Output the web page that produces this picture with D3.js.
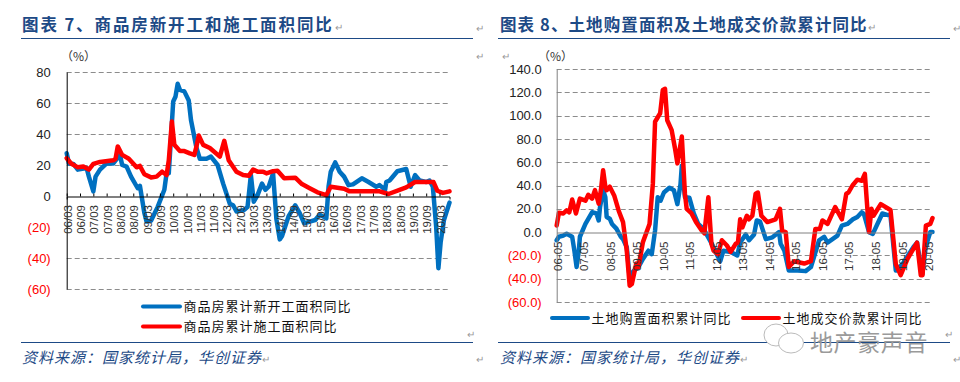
<!DOCTYPE html>
<html><head><meta charset="utf-8">
<script src="https://cdnjs.cloudflare.com/ajax/libs/d3/7.8.5/d3.min.js"></script>
<style>html,body{margin:0;padding:0;background:#fff}svg{display:block}</style>
</head><body><svg id="c" width="960" height="382"></svg>
<script>
// Month offsets are counted from the first tick of each chart (06/03 and 06-05)
const leftTicks = ["06/03","06/09","07/03","07/09","08/03","08/09","09/03","09/09","10/03","10/09","11/03","11/09","12/03","12/09","13/03","13/09","14/03","14/09","15/03","15/09","16/03","16/09","17/03","17/09","18/03","18/09","19/03","19/09","20/03"];
const rightTicks = ["06-05","07-05","08-05","09-05","10-05","11-05","12-05","13-05","14-05","15-05","16-05","17-05","18-05","19-05","20-05"];
const leftYTicks = [80,60,40,20,0,-20,-40,-60];
const rightYTicks = [140,120,100,80,60,40,20,0,-20,-40,-60];

const startsMonth = [0,1,3,5,9,10,12,13,15,18,21,24,25,27,29,32,33,35,36,38,41,44,45,46,48,49,50,51,53,55,56,58.5,60,63,65,68,70.5,73.5,75,76.5,80,81.5,83,84.3,86,88,89.5,91,93,94.5,96,97,100,103,105,107,109.5,112,114,117,118,119,121,123,125,127,129,133,136,139.5,141,143.5,144,145.5,149,153,155,157,159,162,163.5,165,166.5,167.5,168.5,170,172.5];
const startsArea = [27.6,21,20.7,17,18,12.5,3,12.5,17,21,21,26.5,20,19,12.5,5,6.5,-11,-16.5,-16,-7,4,14.6,14.6,61,64,72.4,68.5,67.5,61.6,49,31,24,24,25.4,20,8,-5,-6,-10,-9,-7,13.5,-3.7,0.6,8,4,6,14.6,-15,-28,-26,-13,-6,-11,-17.6,-16.5,-15.5,-12,-14.4,6,15.7,21.7,15.7,12.5,7,7.5,11.4,9,6,7,4,9,10,16,17.4,6,13.5,10,9,10,6,-20,-46.6,-30,-15.5,-4.3];

const constrMonth = [0,2,5,7.5,10,12,15,21,22,23,25,28,31.5,33,35,38,40.5,43,45,46,47.4,48.5,51,53,55.5,57.5,58.5,59.5,61.5,64.5,69,71,73,76.5,79.5,82,84,86,88.5,90,93,95,98,103,106,109.5,113,117,119,125,127.5,138,141,145,150,153,157,164,165.3,167,169.5,172.5];
const constrArea = [24.4,21,18.5,19,17,20.7,22,23,24,32,26.5,24,18.5,19.4,14,12,12.5,15.7,13.5,23,48,33,29,29,27.5,26.5,32,39,33,31,25.4,35.6,23,15.7,13.5,13,17,15.7,15.7,14.6,16,16.3,11.4,11.8,7.7,5,2.4,0.6,6,4.7,3,3,3,1.3,4,5.6,9,9,9,3.4,2,3];

const landAreaMonth = [0,1,3,4.5,7,8,9,10,10.5,13,16,18,19,19.6,21,22,22.6,24,25,27,29,30,31.7,33,35,37,39,41.5,43,44.5,45.7,47,48.5,51,53,54.6,56,56.6,58,60,62,64,66.4,71,72.4,74,75.4,78.7,81.7,83,85.5,87,89.3,90.5,92,94.6,97.6,100.6,101.3,103,105,109,112.6,115,118.7,121,122.5,127,129,131.5,134,136,138,139,141.3,143,147.3,151,153.4,156.4,161.7,163,165.4,167,169,170];
const landArea = [-7,-4,-3,-1.5,-4,-16,-30,-16,-4,7,17,16,10,21.5,36,30,13,11.5,7,3,-4,-6,-13,-39,-33,-30,-23,-16,-19,1.4,30,27,34,38,36,24,41,57,30,29.5,16,7,3,-13,-19,-25,-16,-17,-20,-9,-2,-7,-2,10,9,-6,-4.5,0,-10,-16,-33,-33,-33.5,-30,-7,-4,-9,-3,5.5,7,11,13,17,15.5,0,-1.5,16,14,-33,-27.5,-12,-9,-36,-12,0,0];

const landValueMonth = [0,1,3,4.5,5.7,7,8.7,10.5,13,14.3,16,17.3,19,20,21,22,22.6,24,26,28,30,31.7,33,34,36,37,39,42,43.5,44.5,46.8,48,49,50,52,53.5,54.6,56.6,58,58.8,61,63,65.6,66.8,68.6,70,71,73,74.7,77,78.7,81,82,83,84,86,87,88.5,90,91,92.6,95.3,99,101,102,103.6,105,107.4,112,115,117,119,120.2,122.5,126,129,131,132,133.8,136,138,139.4,141.3,142.4,143.3,146.6,151,153.4,155.6,158.7,163,164.7,165.5,167,169,170];
const landValue = [5.7,16.6,16,18.6,17,28,16,28.7,27,32,28.7,36,24.4,36,53,39,36,39,31.5,18.6,8.6,-16,-46,-44.5,-27,-30,-8.6,7,41.6,94.7,102,122,123,96,87.5,72,59,82,33,20,16,8.6,1.4,-1,30,-10,-16,-19,-7,-11.5,-17,-10,-9,11,4,14,11,14,33,34,14,8.6,11,20,1,0,-30,-25,-27,-25,2.6,2.6,10,7,21.5,11,33,34,40,45,44,50,0,20,14,24,19,-27.5,-37,-23,-9,-37,-37,5.5,7,12];

const NAVY = "#1d4a86", BLUE = "#0070c0", RED = "#ff0000", GRID = "#8c8c8c";
const SANS = "'Liberation Sans',Arial,sans-serif", CJK = "'Noto Sans CJK SC',sans-serif";
const svg = d3.select("#c");

function chart(o){
  const g = svg.append("g");
  const y = d3.scaleLinear().domain([o.yTicks[o.yTicks.length-1], o.yTicks[0]]).range([o.bottom, o.top]);
  const x = d3.scaleLinear().domain([0, o.months]).range([o.left, o.right]);
  g.append("g").selectAll("line").data(o.yTicks.filter(v=>v!==0)).join("line")
    .attr("x1",o.left).attr("x2",o.right).attr("y1",d=>Math.round(y(d))+.5).attr("y2",d=>Math.round(y(d))+.5)
    .attr("stroke",GRID).attr("stroke-dasharray","5 3").attr("stroke-width",1);
  if(o.bandTo) g.append("rect").attr("x",o.left+1).attr("y",Math.round(y(0))+6).attr("width",o.bandTo-o.left).attr("height",o.labelLen)
    .attr("fill","#fff");
  const line = d3.line().x(d=>x(d[0])).y(d=>y(d[1])).curve(d3.curveLinear);
  o.series.forEach(s=>{
    g.append("path").attr("d",line(d3.zip(s.m,s.v))).attr("fill","none").attr("stroke",s.color)
     .attr("stroke-width",s.w).attr("stroke-linejoin","round").attr("stroke-linecap","round");
  });
  const ya = d3.axisLeft(y).tickValues(o.yTicks).tickSize(0).tickPadding(o.pad).tickFormat(o.yFmt);
  const ga = g.append("g").attr("transform",`translate(${o.left},0)`).call(ya);
  ga.select(".domain").attr("stroke",o.axisColor).attr("stroke-width",o.axisW);
  ga.selectAll("text").attr("font-family",SANS).attr("font-size",o.yFont)
    .attr("fill",d=>d<0?"#ff0000":"#222").attr("stroke","none");
  const xv = o.ticks.map((t,i)=>i*o.tickStep);
  const xa = d3.axisBottom(x).tickValues(xv).tickSize(o.tickLen).tickFormat((d,i)=>o.ticks[i]);
  const gx = g.append("g").attr("transform",`translate(0,${Math.round(y(0))+.5})`).call(xa);
  gx.select(".domain").attr("stroke",o.axisColor).attr("stroke-width",o.axisW);
  gx.selectAll(".tick line").attr("stroke",o.axisColor).attr("y2",-o.tickLen);
  gx.selectAll(".tick text").attr("font-family",SANS).attr("font-size",o.xFont).attr("fill","#333")
    .attr("text-anchor","end").attr("dy",0).attr("y",0)
    .attr("transform",`translate(4.5,${o.labelGap}) rotate(-90)`);
  g.append("text").text("（%）").attr("x",o.pctX).attr("y",61).attr("font-family",CJK).attr("font-size",12).attr("fill","#333");
}

chart({left:66.7,right:449.5,top:72,bottom:289,months:172.5,yTicks:leftYTicks,yFmt:d=>d<0?`(${-d})`:d,pad:16,yFont:13,
  ticks:leftTicks,tickStep:6,tickLen:3,axisColor:"#000",axisW:1,xFont:11.5,labelGap:8.5,pctX:61,bandTo:443,labelLen:32,
  series:[{m:startsMonth,v:startsArea,color:BLUE,w:4.5},{m:constrMonth,v:constrArea,color:RED,w:4.5}]});
chart({left:556.7,right:932.5,top:69,bottom:302,months:170,yTicks:rightYTicks,yFmt:d=>d<0?`(${(-d).toFixed(1)})`:d.toFixed(1),pad:15,yFont:13,
  ticks:rightTicks,tickStep:12,tickLen:0,axisColor:"#808080",axisW:1,xFont:11.5,labelGap:9,pctX:538,
  series:[{m:landAreaMonth,v:landArea,color:BLUE,w:4.5},{m:landValueMonth,v:landValue,color:RED,w:4.5}]});

function txt(t,x,y,size,fill,extra={}){
  const e = svg.append("text").text(t).attr("x",x).attr("y",y).attr("font-size",size).attr("fill",fill).attr("font-family",CJK);
  Object.entries(extra).forEach(([k,v])=>e.attr(k,v));
  return e;
}
txt("图表 7、商品房新开工和施工面积同比",22,31,16.5,NAVY,{"font-weight":700,"letter-spacing":"1.9px"});
txt("图表 8、土地购置面积及土地成交价款累计同比",500,31,16.5,NAVY,{"font-weight":700,"letter-spacing":"1.1px"});
[[21,473],[498,950]].forEach(([a,b])=>{
  svg.append("line").attr("x1",a).attr("x2",b).attr("y1",38.5).attr("y2",38.5).attr("stroke",NAVY).attr("stroke-width",1.2);
  svg.append("line").attr("x1",a).attr("x2",b).attr("y1",342.5).attr("y2",342.5).attr("stroke",NAVY).attr("stroke-width",1.2);
});
const legendItems = [
 ["商品房累计新开工面积同比",143,180,306.5,BLUE],
 ["商品房累计施工面积同比",143,180,326.5,RED],
 ["土地购置面积累计同比",552,588,318,BLUE],
 ["土地成交价款累计同比",743,779,318,RED]];
legendItems.forEach(([t,a,b,y,c])=>{
  svg.append("line").attr("x1",a).attr("x2",b).attr("y1",y).attr("y2",y).attr("stroke",c).attr("stroke-width",4).attr("stroke-linecap","round");
  txt(t,b+3.5,y+4.5,13,"#111",{"letter-spacing":"1px"});
});
[22,500].forEach(x=>txt("资料来源：国家统计局，华创证券",x,363,15,NAVY,{"font-style":"italic","letter-spacing":"1px"}));
[[335,31],[467,338],[262,363],[476,32],[476,363],[476,60],[953,32],[502,60],[945,338],[740,363],[953,363],[868,31]].forEach(([x,y])=>txt("↵",x,y,10,"#999"));
const wm = svg.append("g").attr("fill","#fff").attr("stroke","#bbb").attr("stroke-width",1);
wm.append("ellipse").attr("cx",776).attr("cy",335).attr("rx",12).attr("ry",11);
wm.append("ellipse").attr("cx",791).attr("cy",343).attr("rx",12.5).attr("ry",10);
txt("地产豪声音",810,351,23,"#9a9a9a",{"letter-spacing":"0.6px"});
</script></body></html>
